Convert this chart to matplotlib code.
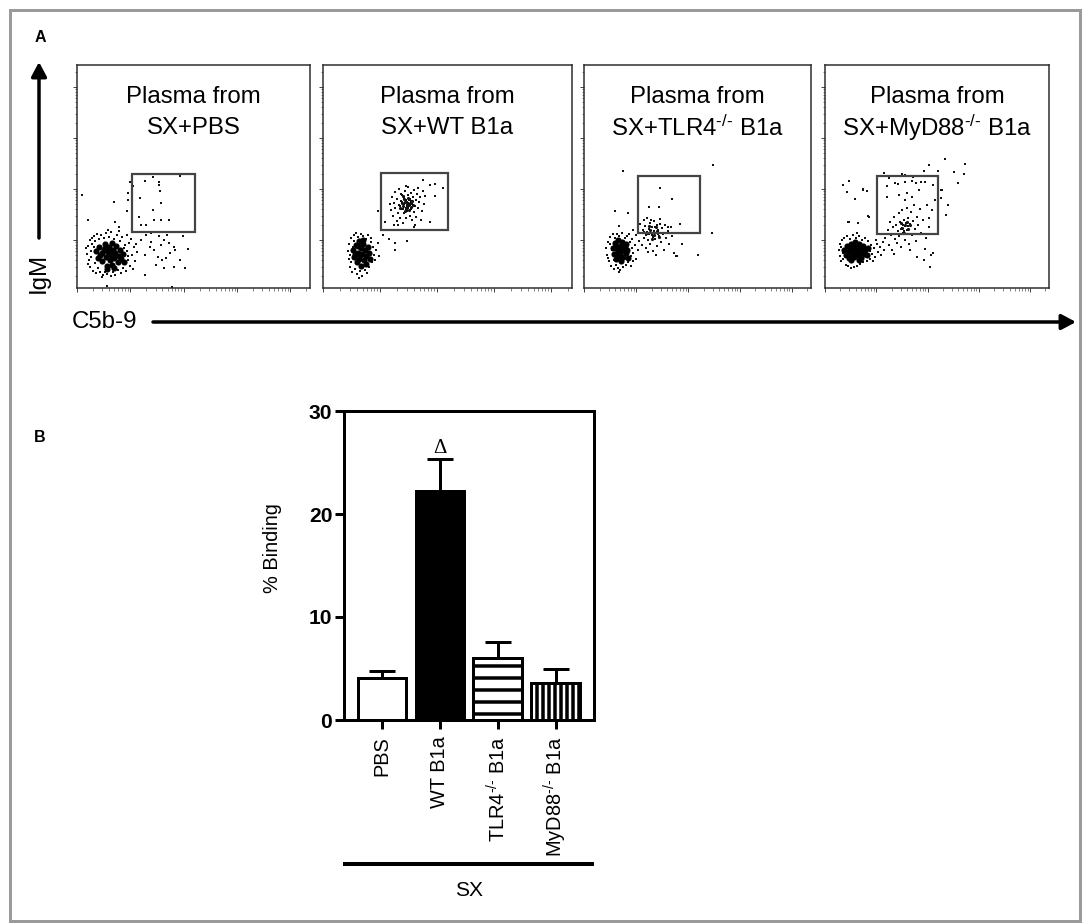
import matplotlib
matplotlib.use('Agg')
import matplotlib.pyplot as plt
import numpy as np
from matplotlib.patches import Rectangle, FancyArrowPatch

plt.rcParams['font.family'] = ['Liberation Sans', 'DejaVu Sans']
plt.rcParams['mathtext.fontset'] = 'custom'
plt.rcParams['mathtext.rm'] = 'Liberation Sans'
plt.rcParams['mathtext.it'] = 'Liberation Sans:italic'
plt.rcParams['mathtext.bf'] = 'Liberation Sans:bold'
plt.rcParams['hatch.linewidth'] = 3.5


#PANEL A DATA (log10 C5b-9, log10 IgM)

titles = ['SX+PBS', 'SX+WT B1a', r'SX+TLR4$^{\text{-/-}}$ B1a', r'SX+MyD88$^{\text{-/-}}$ B1a']

#gates: (x0, y0, x1, y1)
gates = [(2.04, 1.16, 3.21, 2.30),
         (2.01, 1.20, 3.20, 2.31),
         (2.03, 1.14, 3.24, 2.26),
         (2.02, 1.12, 3.20, 2.26)]

#SX+PBS
pbs_core = [(1.36,0.78),(1.42,0.86),(1.44,0.70),(1.47,0.58),(1.50,0.80),(1.52,0.92),(1.54,0.66),(1.56,0.50),
            (1.58,0.76),(1.60,0.86),(1.61,0.60),(1.63,0.70),(1.65,0.95),(1.66,0.52),(1.68,0.80),(1.70,0.64),
            (1.72,0.74),(1.74,0.88),(1.76,0.56),(1.78,0.68),(1.80,0.80),(1.83,0.62),(1.86,0.72),(1.40,0.64),
            (1.46,0.74),(1.57,0.44),(1.69,0.46),(1.52,0.84),(1.88,0.56),(1.62,0.80)]
pbs_dots = [(1.18,0.72),(1.20,0.88),(1.22,0.60),(1.24,1.00),(1.25,0.48),(1.27,0.78),(1.28,0.92),(1.30,0.40),
            (1.31,1.08),(1.33,0.55),(1.34,0.98),(1.35,0.35),(1.37,1.12),(1.39,0.46),(1.41,1.02),(1.43,0.38),
            (1.45,1.10),(1.48,0.32),(1.50,1.04),(1.53,0.38),(1.55,1.14),(1.57,0.34),(1.60,1.06),(1.63,0.30),
            (1.64,1.16),(1.67,0.38),(1.70,1.02),(1.72,0.32),(1.75,1.10),(1.77,0.42),(1.80,0.98),(1.82,0.36),
            (1.85,1.05),(1.87,0.46),(1.90,0.90),(1.92,0.40),(1.94,0.78),(1.96,0.60),(1.98,0.95),(2.00,0.50),
            (2.03,0.70),(2.06,0.86),(2.08,0.58),(2.12,0.76),(1.93,1.10),(2.02,1.02),(1.26,0.66),(1.32,0.86),
            (1.88,0.84),(1.95,0.68),(1.21,0.54),(1.29,1.04),(1.46,0.28),(1.58,1.20),(1.79,1.18),(2.10,0.92),
            (2.05,0.44),(1.16,0.84),
            (1.09,1.88),(1.21,1.39),(1.69,1.75),(1.96,1.92),(1.99,2.14),(1.96,1.79),(2.05,2.05),(1.93,1.56),
            (2.28,2.16),(2.42,2.23),(2.54,2.13),(2.54,2.08),(2.55,1.97),(2.19,1.82),(2.58,1.72),(2.43,1.58),
            (2.17,1.45),(2.45,1.39),(2.57,1.39),(2.73,1.39),(2.94,2.26),(2.20,1.30),(2.30,1.30),(1.72,1.36),
            (1.78,1.26),
            (2.20,1.00),(2.30,1.10),(2.39,1.13),(2.48,1.16),(2.54,1.07),(2.63,1.00),(2.72,0.94),(2.81,0.87),
            (2.36,0.87),(2.45,0.81),(2.51,0.67),(2.60,0.61),(2.66,0.64),(2.75,0.74),(2.84,0.81),(2.99,1.07),
            (3.08,0.82),(2.27,0.71),(2.48,0.51),(2.63,0.45),(2.81,0.48),(3.02,0.45),(2.93,0.61),(2.57,0.90),
            (2.39,0.97),(2.69,1.10),(1.57,0.10),(2.78,0.07),(2.27,0.31)]

#SX+WT B1a
wt_core = [(1.53,0.80),(1.55,0.66),(1.58,0.90),(1.59,0.56),(1.61,0.74),(1.63,0.98),(1.64,0.62),(1.66,0.84),
           (1.67,0.50),(1.69,0.72),(1.71,0.92),(1.72,0.60),(1.74,0.80),(1.76,0.68),(1.79,0.86),(1.81,0.74),
           (1.57,0.72),(1.65,0.70),(1.75,0.54),(1.62,0.88),(1.83,0.62),(1.70,1.00)]
wt_mid = [(2.40,1.66),(2.44,1.74),(2.48,1.68),(2.52,1.72),(2.46,1.60),(2.42,1.80),(2.50,1.82),(2.54,1.64),
          (2.38,1.72),(2.47,1.70),(2.56,1.76),(2.44,1.56),(2.36,1.62),(2.58,1.68),(2.51,1.58),(2.40,1.86)]
wt_dots = [(1.43,0.78),(1.45,0.62),(1.46,0.92),(1.48,0.48),(1.49,1.04),(1.51,0.38),(1.52,0.86),(1.54,1.10),
           (1.56,0.44),(1.58,1.14),(1.60,0.34),(1.62,1.06),(1.65,0.40),(1.67,1.12),(1.69,0.30),(1.71,1.08),
           (1.73,0.42),(1.75,1.02),(1.77,0.36),(1.79,1.10),(1.81,0.48),(1.84,0.96),(1.86,0.56),(1.88,0.86),
           (1.90,0.70),(1.93,0.80),(1.96,0.94),(1.99,0.68),(1.47,0.70),(1.50,0.56),(1.85,1.04),(1.55,0.98),
           (1.91,0.60),(1.64,0.26),
           (2.17,1.70),(2.19,1.58),(2.21,1.84),(2.23,1.48),(2.24,1.72),(2.26,1.94),(2.27,1.62),(2.29,1.38),
           (2.30,1.80),(2.32,1.52),(2.33,1.68),(2.34,2.00),(2.36,1.44),(2.37,1.76),(2.38,1.60),(2.39,1.88),
           (2.40,1.34),(2.41,1.70),(2.42,1.52),(2.43,1.82),(2.44,1.96),(2.45,1.62),(2.46,1.44),(2.47,1.74),
           (2.48,1.56),(2.49,1.88),(2.50,2.04),(2.51,1.66),(2.52,1.48),(2.53,1.80),(2.54,1.60),(2.55,1.92),
           (2.56,1.70),(2.57,1.40),(2.58,1.84),(2.59,1.54),(2.60,1.98),(2.61,1.66),(2.63,1.78),(2.64,1.46),
           (2.65,1.90),(2.67,1.62),(2.69,1.74),(2.71,1.84),(2.73,1.56),(2.75,1.96),(2.77,1.70),(2.79,1.86),
           (2.35,1.66),(2.39,1.74),(2.43,1.70),(2.45,1.78),(2.47,1.64),(2.49,1.72),(2.51,1.78),(2.53,1.68),
           (2.41,1.60),(2.49,1.62),(2.55,1.76),(2.37,1.90),(2.31,1.30),(2.25,1.30),(2.62,1.30),(2.45,2.06),
           (2.67,2.02),
           (1.96,1.56),(2.09,1.36),(2.15,1.03),(2.27,0.94),(2.27,0.81),(2.48,0.99),(2.87,2.08),(2.96,2.10),
           (3.11,2.01),(2.75,2.18),(2.96,1.86),(2.87,1.36),(2.60,1.26),(2.72,1.39),(2.06,1.10)]

#SX+TLR4-/- B1a
tlr_core = [(1.55,0.84),(1.58,0.72),(1.60,0.94),(1.62,0.62),(1.64,0.82),(1.66,1.00),(1.67,0.68),(1.69,0.88),
            (1.71,0.58),(1.72,0.78),(1.74,0.96),(1.76,0.66),(1.78,0.86),(1.80,0.74),(1.83,0.80),(1.85,0.64),
            (1.65,0.74),(1.75,0.80),(1.61,0.86),(1.81,0.92),(1.70,0.70)]
tlr_mid = [(2.22,1.14),(2.28,1.20),(2.34,1.10),(2.40,1.18),(2.30,1.02),(2.26,1.28),(2.38,1.26),(2.44,1.06)]
tlr_dots = [(1.43,0.84),(1.45,0.70),(1.47,0.96),(1.49,0.58),(1.50,1.06),(1.52,0.50),(1.53,0.80),(1.55,1.12),
            (1.57,0.44),(1.59,1.04),(1.61,0.52),(1.63,1.12),(1.65,0.46),(1.68,1.08),(1.70,0.42),(1.73,1.14),
            (1.75,0.48),(1.78,1.04),(1.80,0.52),(1.83,1.08),(1.85,0.56),(1.88,0.96),(1.90,0.68),(1.92,0.84),
            (1.95,0.74),(1.98,0.90),(2.01,0.62),(2.04,0.80),(1.90,0.50),(1.87,1.12),(1.47,0.64),(1.57,0.60),
            (1.93,1.02),(1.95,0.58),(1.67,0.38),(1.51,0.92),
            (2.01,1.10),(2.03,1.24),(2.05,0.98),(2.07,1.32),(2.09,1.14),(2.11,0.90),(2.13,1.20),(2.15,1.40),
            (2.16,1.04),(2.18,1.28),(2.19,0.84),(2.21,1.16),(2.22,1.44),(2.24,1.00),(2.25,1.22),(2.27,1.34),
            (2.28,0.92),(2.30,1.10),(2.31,1.26),(2.33,0.78),(2.34,1.18),(2.35,1.38),(2.37,1.02),(2.38,1.14),
            (2.40,1.30),(2.41,0.88),(2.43,1.20),(2.45,1.08),(2.46,1.42),(2.48,0.96),(2.50,1.24),(2.52,1.12),
            (2.54,0.80),(2.56,1.30),(2.58,1.04),(2.61,1.18),(2.64,0.92),(2.67,1.26),(2.70,1.08),(2.73,0.74),
            (2.20,1.10),(2.26,1.12),(2.32,1.06),(2.36,1.26),(2.42,1.12),(2.23,0.76),(2.39,0.70),(2.15,1.16),
            (2.29,1.40),(2.47,1.32),
            (1.76,2.36),(1.60,1.56),(1.85,1.52),(1.67,1.28),(2.47,2.01),(2.70,1.80),(2.25,1.64),(2.44,1.65),
            (2.85,1.31),(2.88,0.92),(2.79,0.69),(3.19,0.71),(2.61,1.26),(1.94,1.20),(3.48,2.47),(3.46,1.13),
            (2.77,0.69)]

#SX+MyD88-/- B1a
myd_core = [(1.38,0.80),(1.41,0.70),(1.43,0.88),(1.45,0.76),(1.47,0.64),(1.49,0.84),(1.51,0.92),(1.52,0.72),
            (1.54,0.80),(1.56,0.66),(1.58,0.88),(1.60,0.76),(1.62,0.70),(1.64,0.84),(1.66,0.92),(1.68,0.74),
            (1.70,0.64),(1.72,0.82),(1.74,0.88),(1.76,0.72),(1.79,0.80),(1.82,0.70),(1.84,0.84),(1.50,0.60),
            (1.66,0.60),(1.58,0.96)]
myd_mid = [(2.50,1.24),(2.56,1.30),(2.62,1.22),(2.54,1.14),(2.60,1.36),(2.66,1.30),(2.48,1.34)]
myd_dots = [(1.27,0.80),(1.29,0.68),(1.30,0.92),(1.32,0.58),(1.34,1.00),(1.36,0.62),(1.38,1.04),(1.40,0.52),
            (1.43,1.08),(1.45,0.50),(1.48,1.02),(1.51,0.46),(1.54,1.10),(1.57,0.48),(1.60,1.04),(1.63,0.50),
            (1.66,1.08),(1.69,0.54),(1.72,1.00),(1.75,0.56),(1.78,1.04),(1.81,0.58),(1.84,0.98),(1.87,0.62),
            (1.90,0.90),(1.92,0.72),(1.95,0.84),(1.98,0.66),(2.01,0.92),(2.04,0.76),(2.07,0.86),(2.10,0.70),
            (2.13,0.96),(2.16,0.80),(1.88,0.78),(1.94,0.58),(2.00,1.00),(1.31,0.86),(1.36,0.74),(1.62,1.14),
            (2.18,1.04),(2.22,1.20),(2.24,0.90),(2.26,1.36),(2.28,1.10),(2.30,0.80),(2.32,1.26),(2.34,1.46),
            (2.36,1.02),(2.38,1.30),(2.40,0.94),(2.42,1.18),(2.44,1.52),(2.45,1.08),(2.47,1.36),(2.48,0.86),
            (2.50,1.24),(2.51,1.58),(2.53,1.14),(2.54,1.40),(2.56,1.00),(2.57,1.28),(2.59,1.62),(2.60,1.20),
            (2.62,1.44),(2.63,0.92),(2.65,1.32),(2.67,1.54),(2.69,1.10),(2.71,1.38),(2.73,1.68),(2.75,1.22),
            (2.77,0.98),(2.79,1.46),(2.82,1.30),(2.85,1.60),(2.88,1.14),(2.91,1.40),(2.95,0.82),(2.98,1.04),
            (3.02,1.26),(3.06,0.70),(2.52,1.30),(2.58,1.34),(2.48,1.22),(2.55,1.18),(2.61,1.28),(2.35,0.72),
            (2.66,0.80),(2.80,0.66),
            (1.36,2.08),(1.47,2.16),(1.42,1.95),(1.59,1.80),(1.74,2.00),(1.81,1.96),(1.45,1.36),(1.65,1.33),
            (1.84,1.47),(2.16,2.32),(2.51,2.30),(2.93,2.36),(3.02,2.47),(3.20,2.36),
            (2.21,2.05),(2.36,2.11),(2.42,2.10),(2.56,2.14),(2.69,2.15),(2.78,2.11),(2.88,2.14),(2.96,2.13),
            (2.45,1.88),(2.60,1.93),(2.69,1.85),(2.84,1.99),(2.21,1.85),(2.99,1.69),(2.57,1.79),(3.11,2.08),
            (3.14,1.79),(3.08,1.59),(3.02,1.43),(3.26,1.98),(3.26,1.82),(2.36,2.26),(2.57,2.28),(2.72,2.23),
            (2.25,2.21),
            (3.34,2.59),(3.74,2.49),(3.52,2.33),(3.71,2.30),(3.60,2.12),(3.39,1.69),(3.36,1.49),(3.29,1.98),
            (3.04,0.48),(3.10,0.74),(2.94,0.61),(1.75,1.99),(1.43,1.95),(1.46,1.36),(1.85,1.46)]

cores = [pbs_core, wt_core, tlr_core, myd_core]
mids = [[], wt_mid, tlr_mid, myd_mid]
dots = [pbs_dots, wt_dots, tlr_dots, myd_dots]


#PANEL B DATA
groups = ['PBS', 'WT B1a', r'TLR4$^{\text{-/-}}$ B1a', r'MyD88$^{\text{-/-}}$ B1a']
binding = [4.05, 22.2, 6.05, 3.56]
binding_sem = [0.70, 3.10, 1.55, 1.36]
fills = ['white', 'black', 'white', 'white']
hatches = ['', '', '-', '||']


#FIGURE
W, H = 1089, 924
fig = plt.figure(figsize=(W / 72, H / 72), dpi=72)

def box(l, t, r, b):
    return fig.add_axes([l / W, 1 - b / H, (r - l) / W, (b - t) / H])

def ftext(x, y, s, **kw):
    fig.text(x / W, 1 - y / H, s, **kw)

#outer gray frame
fig.add_artist(Rectangle((10 / W, 1 - 921 / H), (1080 - 10) / W, (921 - 10) / H,
                         fill=False, lw=3, ec='#9a9a9a'))

ftext(40, 38, 'A', fontsize=16, fontweight='bold', ha='center', va='center')
ftext(40, 438, 'B', fontsize=16, fontweight='bold', ha='center', va='center')

#flow plots
lefts = [77, 323, 584, 825]
rights = [310, 572, 811, 1049]
xlo, xhi = 1.0, 5.37
ylo, yhi = 0.06, 4.43
logs = [d + np.log10(k) for d in range(0, 6) for k in range(2, 10)]
xminor = [v for v in logs if xlo < v < xhi]
yminor = [v for v in logs if ylo < v < yhi]
for i in range(4):
    ax = box(lefts[i], 65, rights[i], 288)
    dx, dy = zip(*dots[i])
    ax.scatter(dx, dy, s=4, marker='s', color='#111111', linewidths=0)
    if mids[i]:
        mx, my = zip(*mids[i])
        ax.scatter(mx, my, s=10, marker='o', color='#111111', linewidths=0)
    cx, cy = zip(*cores[i])
    ax.scatter(cx, cy, s=38, marker='o', color='black', linewidths=0)
    g = gates[i]
    ax.add_patch(Rectangle((g[0], g[1]), g[2] - g[0], g[3] - g[1],
                           fill=False, lw=2.2, ec='#444444'))
    ax.set_xticks([1, 2, 3, 4, 5])
    ax.set_xticks(xminor, minor=True)
    ax.set_yticks([1, 2, 3, 4])
    ax.set_yticks(yminor, minor=True)
    ax.set_xlim(xlo, xhi)
    ax.set_ylim(ylo, yhi)
    ax.tick_params(which='major', direction='out', length=4, width=0.9, color='#333333',
                   labelbottom=False, labelleft=False)
    ax.tick_params(which='minor', direction='out', length=2.5, width=0.7, color='#555555')
    for sp in ax.spines.values():
        sp.set_linewidth(1.5)
        sp.set_color('#2a2a2a')
    ax.text(0.5, 0.857, 'Plasma from', transform=ax.transAxes, ha='center', va='center', fontsize=24)
    ax.text(0.5, 0.717, titles[i], transform=ax.transAxes, ha='center', va='center', fontsize=24)

#axis arrows
fig.add_artist(FancyArrowPatch(
    (39 / W, 1 - 238 / H), (39 / W, 1 - 62 / H), transform=fig.transFigure,
    arrowstyle='-|>,head_length=0.6,head_width=0.32', mutation_scale=20, lw=3.5, color='black',
    shrinkA=0, shrinkB=0))
fig.add_artist(FancyArrowPatch(
    (153 / W, 1 - 322 / H), (1076 / W, 1 - 322 / H), transform=fig.transFigure,
    arrowstyle='-|>,head_length=0.6,head_width=0.32', mutation_scale=20, lw=3.5, color='black',
    shrinkA=0, shrinkB=0))
ftext(39, 273, 'IgM', rotation=90, fontsize=24, ha='center', va='center')
ftext(72, 322, 'C5b-9', fontsize=24, ha='left', va='center')

#bar chart
bx = box(344.3, 411, 594.3, 720)
xs = np.arange(len(groups))
bars = bx.bar(xs, binding, width=0.84, color=fills, edgecolor='black', linewidth=3, zorder=2)
for b, h in zip(bars, hatches):
    b.set_hatch(h)
bx.errorbar(xs, binding, yerr=[np.zeros(len(xs)), binding_sem], fmt='none', ecolor='black',
            elinewidth=3, capsize=13, capthick=3, zorder=1)
bx.text(1, 26.4, '\u0394', fontsize=21, family='Liberation Serif', ha='center', va='center')
bx.set_xlim(-0.656, 3.671)
bx.set_ylim(0, 30)
bx.set_yticks([0, 10, 20, 30])
bx.set_yticklabels(['0', '10', '20', '30'], fontsize=21, fontweight='bold')
bx.set_xticks(xs)
bx.set_xticklabels(groups, rotation=90, fontsize=20, ha='center', va='top')
bx.tick_params(axis='y', length=9, width=3, pad=3)
bx.tick_params(axis='x', length=9, width=3, pad=7)
for sp in bx.spines.values():
    sp.set_linewidth(3)
ftext(273, 548, '% Binding', rotation=90, fontsize=20, ha='center', va='center')
fig.add_artist(plt.Line2D([345 / W, 592 / W], [1 - 864 / H, 1 - 864 / H], lw=4, color='black'))
ftext(469, 890, 'SX', fontsize=21, ha='center', va='center')

fig.savefig('out.png', dpi=72)
